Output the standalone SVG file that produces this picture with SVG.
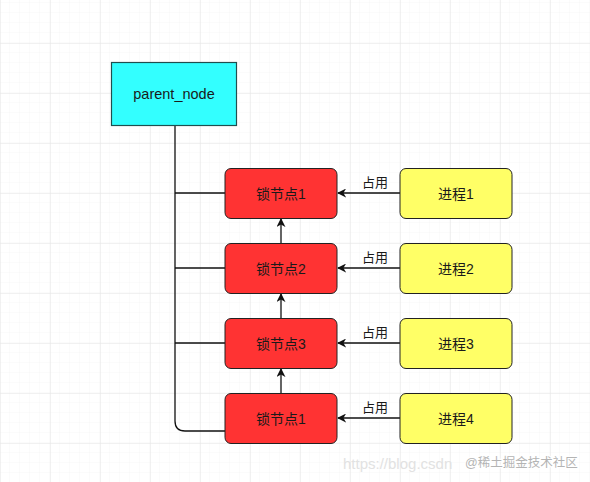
<svg xmlns="http://www.w3.org/2000/svg" width="590" height="482" viewBox="0 0 590 482">
<defs>
<style>
.minor{stroke:#f6f6f6;stroke-width:1}
.major{stroke:#e3e3e3;stroke-width:1}
.t{font-family:"Liberation Sans","Noto Sans CJK SC",Arial,sans-serif;font-size:14px;fill:#1a1a1a;text-anchor:middle;dominant-baseline:central}
.lbl{font-family:"Liberation Sans","Noto Sans CJK SC",Arial,sans-serif;font-size:13px;fill:#1a1a1a;text-anchor:middle;dominant-baseline:central}
.red{fill:#ff3333;stroke:#222;stroke-width:1}
.yel{fill:#ffff66;stroke:#222;stroke-width:1}
.edge{fill:none;stroke:#111;stroke-width:1.3}
.wm{font-family:"Liberation Sans","Noto Sans CJK SC",Arial,sans-serif;font-size:15px;fill:#c8c8c8}
</style>
<marker id="arr" viewBox="0 0 10 10" refX="9" refY="5" markerWidth="9" markerHeight="9" markerUnits="userSpaceOnUse" orient="auto">
<path d="M0,0 L10,5 L0,10 L3,5 Z" fill="#111"/>
</marker>
<pattern id="gmin" width="10" height="10" patternUnits="userSpaceOnUse" x="0" y="3">
<path d="M10,0 V10 M0,10 H10" class="minor" fill="none"/>
</pattern>
<pattern id="gmaj" width="50" height="50" patternUnits="userSpaceOnUse" x="0" y="43">
<path d="M0,0 V50 M0,0 H50" class="major" fill="none"/>
</pattern>
</defs>
<rect width="590" height="482" fill="#ffffff"/>
<rect width="590" height="482" fill="url(#gmin)"/>
<rect width="590" height="482" fill="url(#gmaj)"/>

<g id="connectors">
<path class="edge" d="M175,125 V421 Q175,431 185,431 H225"/>
<path class="edge" d="M175,193 H225"/>
<path class="edge" d="M175,268 H225"/>
<path class="edge" d="M175,343 H225"/>
<path class="edge" d="M281,243 V219" marker-end="url(#arr)"/>
<path class="edge" d="M281,318 V294" marker-end="url(#arr)"/>
<path class="edge" d="M281,393 V369" marker-end="url(#arr)"/>
<path class="edge" d="M400,193 H338" marker-end="url(#arr)"/>
<path class="edge" d="M400,268 H338" marker-end="url(#arr)"/>
<path class="edge" d="M400,343 H338" marker-end="url(#arr)"/>
<path class="edge" d="M400,418 H338" marker-end="url(#arr)"/>
<text class="lbl" x="375" y="182">占用</text>
<text class="lbl" x="375" y="257">占用</text>
<text class="lbl" x="375" y="332">占用</text>
<text class="lbl" x="375" y="407">占用</text>
</g>

<g id="parent_node">
<rect x="111.5" y="62.5" width="125" height="63" fill="#33ffff" stroke="#1f4f4f" stroke-width="1.2"/>
<text class="t" x="174" y="94" style="font-size:14.5px">parent_node</text>
</g>

<g id="lock1">
<rect class="red" x="225" y="168.5" width="112" height="50" rx="6"/>
<text class="t" x="281" y="193.5">锁节点1</text>
</g>
<g id="lock2">
<rect class="red" x="225" y="243.5" width="112" height="50" rx="6"/>
<text class="t" x="281" y="268.5">锁节点2</text>
</g>
<g id="lock3">
<rect class="red" x="225" y="318.5" width="112" height="50" rx="6"/>
<text class="t" x="281" y="343.5">锁节点3</text>
</g>
<g id="lock4">
<rect class="red" x="225" y="393.5" width="112" height="50" rx="6"/>
<text class="t" x="281" y="418.5">锁节点1</text>
</g>

<g id="proc1">
<rect class="yel" x="400" y="168.5" width="112" height="50" rx="6"/>
<text class="t" x="456" y="193.5">进程1</text>
</g>
<g id="proc2">
<rect class="yel" x="400" y="243.5" width="112" height="50" rx="6"/>
<text class="t" x="456" y="268.5">进程2</text>
</g>
<g id="proc3">
<rect class="yel" x="400" y="318.5" width="112" height="50" rx="6"/>
<text class="t" x="456" y="343.5">进程3</text>
</g>
<g id="proc4">
<rect class="yel" x="400" y="393.5" width="112" height="50" rx="6"/>
<text class="t" x="456" y="418.5">进程4</text>
</g>

<g id="watermark">
<text class="wm" x="343" y="469" style="fill:#e2e2e2">https://blog.csdn</text>
<text class="wm" x="465" y="467" style="font-size:12.5px;fill:#b4b4b4;stroke:#ffffff;stroke-width:2.5;paint-order:stroke">@稀土掘金技术社区</text>
</g>
</svg>
